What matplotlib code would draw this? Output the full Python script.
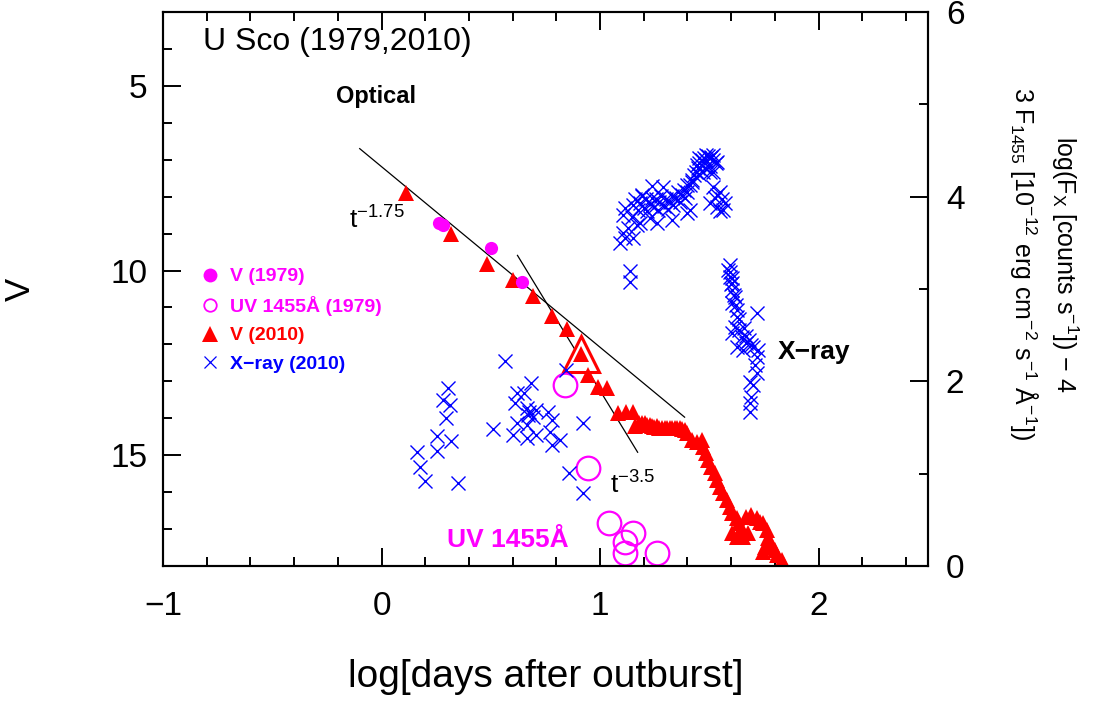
import matplotlib
matplotlib.use("Agg")
import matplotlib.pyplot as plt
from matplotlib.lines import Line2D
from matplotlib.ticker import MultipleLocator

plt.rcParams['font.family'] = ['Liberation Sans', 'DejaVu Sans']
plt.rcParams['mathtext.default'] = 'regular'

# V (1979) - filled magenta circles
v79_x = [0.265, 0.279, 0.503, 0.645]
v79_mag = [8.70, 8.78, 9.38, 10.30]

# UV 1455A (1979) - right axis
uv_x = [0.84, 0.943, 1.043, 1.149, 1.112, 1.112, 1.259]
uv_flux = [1.96, 1.06, 0.47, 0.36, 0.26, 0.14, 0.14]

# V (2010) - red triangles
v10_x = [0.114, 0.320, 0.481, 0.600, 0.691, 0.778, 0.847, 0.911, 0.943, 0.989,
         1.034, 1.080, 1.121, 1.149, 1.162, 1.176, 1.190, 1.204, 1.215, 1.227,
         1.240, 1.249, 1.260, 1.272, 1.285, 1.295, 1.307, 1.318, 1.330, 1.341,
         1.352, 1.364, 1.375, 1.387, 1.400, 1.419, 1.442, 1.465, 1.469, 1.487,
         1.492, 1.510, 1.524, 1.533, 1.547, 1.561, 1.579, 1.593, 1.606, 1.625,
         1.638, 1.648, 1.606, 1.625, 1.652, 1.675, 1.670, 1.693, 1.716, 1.730,
         1.744, 1.762, 1.753, 1.744, 1.767, 1.785, 1.799, 1.812, 1.831, 1.844]
v10_mag = [7.89, 9.00, 9.81, 10.27, 10.70, 11.22, 11.57, 12.27, 12.84, 13.16,
           13.19, 13.86, 13.84, 13.84, 14.22, 14.14, 14.12, 14.14, 14.18, 14.19,
           14.20, 14.24, 14.22, 14.27, 14.25, 14.27, 14.26, 14.27, 14.25, 14.27,
           14.26, 14.27, 14.28, 14.32, 14.41, 14.59, 14.65, 14.59, 14.78, 14.95,
           15.14, 15.32, 15.49, 15.68, 15.86, 16.03, 16.22, 16.41, 16.57, 16.70,
           16.84, 17.03, 17.11, 17.22, 17.22, 17.11, 16.68, 16.62, 16.70, 16.81,
           16.84, 17.03, 17.49, 17.62, 17.24, 17.43, 17.57, 17.70, 17.84, 17.97]

# highlighted V (2010) point
mark_x = [0.911]
mark_mag = [12.27]

# X-ray (2010) - right axis
xr_x = [0.567, 0.302, 0.279, 0.311, 0.297, 0.252, 0.320, 0.256, 0.160, 0.178,
        0.201, 0.348, 0.508, 0.686, 0.618, 0.654, 0.609, 0.664, 0.677, 0.691,
        0.668, 0.709, 0.760, 0.778, 0.618, 0.664, 0.600, 0.664, 0.709, 0.769,
        0.778, 0.815, 0.920, 0.842, 0.860, 0.920, 1.135, 1.135,
        1.089, 1.112, 1.149, 1.103, 1.126, 1.112, 1.103, 1.144, 1.181, 1.167,
        1.259, 1.227, 1.327, 1.400, 1.410, 1.236, 1.286, 1.194,
        1.149, 1.162, 1.172, 1.181, 1.190, 1.199, 1.208, 1.217, 1.227, 1.236,
        1.245, 1.254, 1.263, 1.272, 1.281, 1.291, 1.300, 1.309, 1.318, 1.327,
        1.336, 1.346, 1.355, 1.364, 1.373, 1.382, 1.391, 1.400,
        1.410, 1.419, 1.428, 1.437, 1.446, 1.455, 1.465, 1.474, 1.483, 1.492,
        1.501, 1.510, 1.519, 1.529, 1.501, 1.478, 1.455, 1.519, 1.419, 1.396,
        1.442, 1.455, 1.487, 1.515, 1.533, 1.501, 1.469,
        1.515, 1.533, 1.547, 1.556, 1.533, 1.501, 1.547, 1.561, 1.570, 1.524,
        1.593, 1.584, 1.593, 1.602, 1.606, 1.616, 1.606, 1.625, 1.629, 1.616,
        1.638, 1.648, 1.670, 1.652, 1.698, 1.721, 1.716, 1.707, 1.716, 1.684,
        1.698, 1.693, 1.684, 1.684, 1.716, 1.602, 1.625, 1.597, 1.611, 1.620,
        1.634, 1.657, 1.666, 1.680, 1.693, 1.593, 1.606]
xr_flux = [2.22, 1.93, 1.80, 1.74, 1.60, 1.41, 1.35, 1.25, 1.24, 1.07,
           0.92, 0.90, 1.48, 1.98, 1.87, 1.87, 1.77, 1.71, 1.67, 1.61,
           1.64, 1.69, 1.67, 1.58, 1.55, 1.53, 1.42, 1.39, 1.42, 1.45,
           1.31, 1.37, 1.55, 2.12, 1.01, 0.79, 3.19, 3.08,
           3.50, 3.55, 3.55, 3.61, 3.66, 3.88, 3.80, 3.78, 3.72, 3.69,
           3.72, 3.77, 3.75, 3.82, 3.86, 4.11, 4.10, 4.02,
           3.91, 3.97, 3.86, 3.93, 4.01, 3.88, 3.97, 3.84, 3.92, 3.99,
           3.89, 3.97, 3.86, 3.94, 4.01, 3.90, 3.97, 3.87, 3.94, 4.01,
           3.91, 3.99, 4.05, 3.94, 4.02, 4.07, 3.99, 4.05,
           4.13, 4.18, 4.23, 4.27, 4.31, 4.36, 4.40, 4.42, 4.40, 4.44,
           4.42, 4.43, 4.40, 4.36, 4.33, 4.31, 4.24, 4.27, 4.16, 4.13,
           4.34, 4.42, 4.45, 4.45, 4.38, 4.27, 4.27,
           4.10, 4.02, 4.05, 3.97, 3.89, 3.93, 3.84, 3.86, 3.93, 3.99,
           3.26, 3.21, 3.13, 3.07, 2.99, 2.91, 2.85, 2.77, 2.70, 2.59,
           2.56, 2.48, 2.42, 2.34, 2.37, 2.34, 2.26, 2.18, 2.09, 1.99,
           1.96, 1.83, 1.77, 1.67, 2.74, 2.52, 2.37, 3.05, 2.93, 2.83,
           2.67, 2.58, 2.49, 2.45, 2.39, 3.18, 3.12]

# power-law guide lines
fit175_x = [-0.10, 1.387]
fit175_mag = [6.70, 13.97]
fit35_x = [0.622, 1.172]
fit35_mag = [9.59, 14.92]

fig = plt.figure(figsize=(10.98, 7.04), dpi=100)
ax = fig.add_axes([0.1485, 0.196, 0.6965, 0.787])
ax2 = ax.twinx()

ax.plot(fit175_x, fit175_mag, color='black', lw=0.9)
ax.plot(fit35_x, fit35_mag, color='black', lw=0.9)
ax.plot(mark_x, mark_mag, ls='none', marker='^', ms=26, mfc='white', mec='red', mew=2.2)
ax.plot(v10_x, v10_mag, ls='none', marker='^', ms=12, color='red', mew=0)
ax.plot(v79_x, v79_mag, ls='none', marker='o', ms=9.5, color='#ff00ff', mew=0)

ax2.plot(uv_x, uv_flux, ls='none', marker='o', ms=17, mfc='none', mec='#ff00ff', mew=1.6)
ax2.plot(xr_x, xr_flux, ls='none', marker='x', ms=9.5, color='#0000ff', mew=1.0)

ax.set_xlim(-1, 2.5)
ax.set_ylim(18, 3)
ax2.set_ylim(0, 6)

ax.xaxis.set_major_locator(MultipleLocator(1))
ax.xaxis.set_minor_locator(MultipleLocator(0.2))
ax.yaxis.set_major_locator(MultipleLocator(5))
ax.yaxis.set_minor_locator(MultipleLocator(1))
ax2.yaxis.set_major_locator(MultipleLocator(2))
ax2.yaxis.set_minor_locator(MultipleLocator(1))

ax.tick_params(which='both', direction='in', top=True, right=False, width=1.4)
ax.tick_params(which='major', length=13, labelsize=24)
ax.tick_params(which='minor', length=6.5)
ax.tick_params(axis='x', which='major', pad=18)
ax.tick_params(axis='y', which='major', pad=11)
ax2.tick_params(which='both', direction='in', width=1.4)
ax2.tick_params(which='major', length=13, labelsize=24, pad=13)
ax2.tick_params(which='minor', length=6.5)
for a in (ax, ax2):
    for s in a.spines.values():
        s.set_linewidth(1.5)

ax.set_xticks([-1, 0, 1, 2])
ax.set_xticklabels(['\u22121', '0', '1', '2'])

ax.set_xlabel('log[days after outburst]', fontsize=28)
ax.xaxis.set_label_coords(0.5, -0.168)
ax.set_ylabel('V', fontsize=25)
ax.yaxis.set_label_coords(-0.165, 0.5)

ax.text(1.152, 0.545, 'log(F$_X$ [counts s$^{-1}$]) \u2212 4\n'
        '3 F$_{1455}$ [10$^{-12}$ erg cm$^{-2}$ s$^{-1}$ \u00c5$^{-1}$])',
        transform=ax.transAxes, rotation=270, ha='center', va='center',
        multialignment='center', fontsize=18, linespacing=1.35)

ax.text(0.052, 0.946, 'U Sco (1979,2010)', transform=ax.transAxes,
        ha='left', va='center', fontsize=23)
ax.text(0.226, 0.847, 'Optical', transform=ax.transAxes,
        ha='left', va='center', fontsize=17, fontweight='bold')
ax.text(0.243, 0.625, '$t^{-1.75}$', transform=ax.transAxes,
        ha='left', va='center', fontsize=19)
ax.text(0.584, 0.146, '$t^{-3.5}$', transform=ax.transAxes,
        ha='left', va='center', fontsize=19)
ax.text(0.804, 0.386, 'X\u2212ray', transform=ax.transAxes,
        ha='left', va='center', fontsize=19, fontweight='bold')
ax.text(0.371, 0.047, 'UV 1455\u00c5', transform=ax.transAxes,
        ha='left', va='center', fontsize=19, fontweight='bold', color='#ff00ff')

handles = [
    Line2D([], [], ls='none', marker='o', ms=10, color='#ff00ff', mew=0),
    Line2D([], [], ls='none', marker='o', ms=9, mfc='none', mec='#ff00ff', mew=1.3),
    Line2D([], [], ls='none', marker='^', ms=11, color='red', mew=0),
    Line2D([], [], ls='none', marker='x', ms=9, color='#0000ff', mew=0.9),
]
labels = ['V (1979)', 'UV 1455\u00c5 (1979)', 'V (2010)', 'X\u2212ray (2010)']
ax.legend(handles, labels, loc='upper left', bbox_to_anchor=(0.026, 0.57),
          frameon=False, handlelength=1.0, handletextpad=0.5, labelspacing=0.55,
          prop={'size': 14, 'weight': 'bold'},
          labelcolor=['#ff00ff', '#ff00ff', 'red', '#0000ff'])

fig.savefig('out.png', dpi=100)
